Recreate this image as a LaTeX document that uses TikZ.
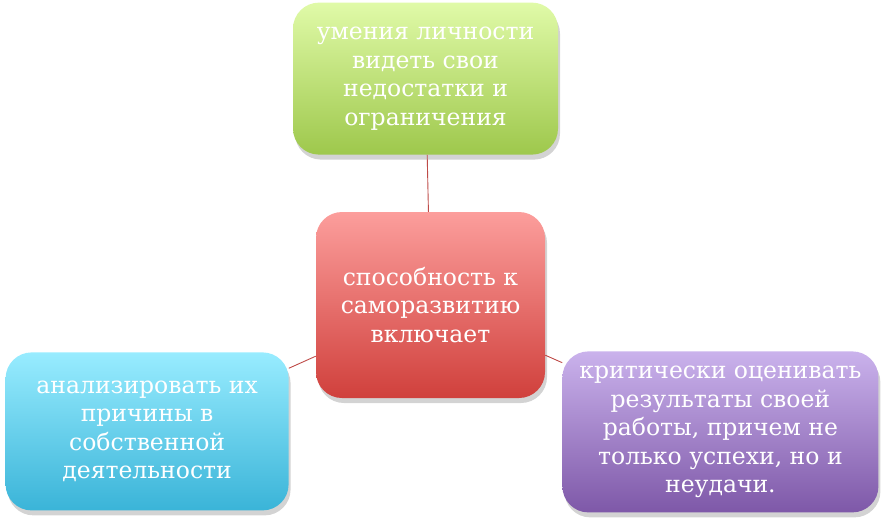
\documentclass[tikz,border=0pt]{standalone}
\usepackage{fontspec}
\setmainfont{DejaVu Serif}
\definecolor{linkred}{RGB}{190,75,72}
\definecolor{greentop}{RGB}{224,250,168}
\definecolor{greenbot}{RGB}{158,200,76}
\definecolor{redtop}{RGB}{252,158,156}
\definecolor{redbot}{RGB}{208,64,60}
\definecolor{cyantop}{RGB}{152,236,255}
\definecolor{cyanbot}{RGB}{58,180,216}
\definecolor{violettop}{RGB}{202,178,236}
\definecolor{violetbot}{RGB}{126,88,168}
\usetikzlibrary{positioning, shadows}

\begin{document}
\begin{tikzpicture}[
                box/.style={rectangle, rounded corners=26pt, align=center,
                            text=white, inner sep=4pt,
                            font=\fontsize{23.5pt}{28.5pt}\selectfont,
                            drop shadow={opacity=0.35, shadow xshift=2pt, shadow yshift=-5pt}},
                link/.style={draw=linkred, line width=0.9pt}
            ]
                \useasboundingbox (0,0) rectangle (885pt,-522pt);
                \node[box, top color=redtop, bottom color=redbot,
                      minimum width=229pt, minimum height=186pt]
                      (self) at (430.5pt,-305pt) {способность к\\ саморазвитию\\ включает};
                \node[box, top color=greentop, bottom color=greenbot,
                      minimum width=265pt, minimum height=152pt,
                      above=57pt of self, xshift=-5pt] (limits) {умения личности\\ видеть свои\\ недостатки и\\ ограничения};
                \node[box, top color=cyantop, bottom color=cyanbot,
                      minimum width=283pt, minimum height=158pt,
                      below left=-46pt and 27pt of self] (causes) {анализировать их\\ причины в\\ собственной\\ деятельности};
                \node[box, top color=violettop, bottom color=violetbot,
                      minimum width=316pt, minimum height=161pt,
                      below right=-47pt and 17pt of self] (results) {критически оценивать\\ результаты своей\\ работы, причем не\\ только успехи, но и\\ неудачи.};

                \draw[link] (limits) -- (self);
                \draw[link] (self) -- (causes);
                \draw[link] (self) -- (results);
            \end{tikzpicture}
\end{document}
